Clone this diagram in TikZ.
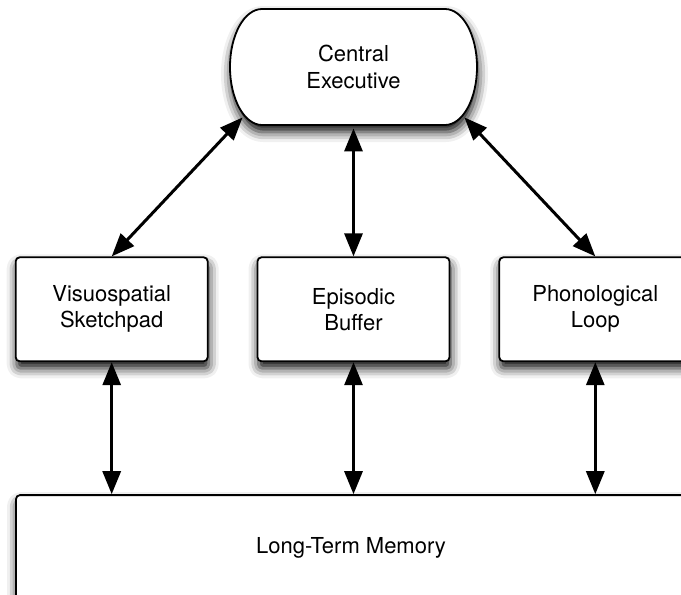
\documentclass[tikz,border=0pt]{standalone}
\usepackage{fontspec}
\setmainfont{TeX Gyre Heros}
\usetikzlibrary{arrows.meta, positioning, calc, shadows.blur}

\begin{document}
\begin{tikzpicture}[
    softshadow/.style={blur shadow={shadow xshift=0.5pt, shadow yshift=-3.5pt, shadow blur radius=5pt, shadow opacity=95}},
    box/.style={rectangle, draw, line width=0.9pt, rounded corners=2pt, fill=white, minimum width=96pt, minimum height=52pt, align=center, font=\fontsize{11}{13}\selectfont, softshadow},
    exec/.style={rectangle, minimum width=123.5pt, minimum height=58pt, align=center, font=\fontsize{11}{13.5}\selectfont},
    outline/.style={draw, line width=0.9pt, fill=white, softshadow},
    arr/.style={{Triangle[length=11.5pt,width=9pt]}-{Triangle[length=11.5pt,width=9pt]}, line width=1.5pt, fill opacity=1}
]
% frame
\useasboundingbox (0,0) rectangle (340.5pt,-297.5pt);

% Central executive (elliptic ends)
\coordinate (cec) at (176.75pt,-33.5pt);
\begin{scope}
\path[outline] ($(cec)+(-45.75pt,29pt)$) -- ++(91.5pt,0)
    arc[start angle=90, end angle=-90, x radius=16pt, y radius=29pt]
    -- ++(-91.5pt,0)
    arc[start angle=270, end angle=90, x radius=16pt, y radius=29pt] -- cycle;
\end{scope}
\node[exec] (ce) at (cec) {Central\\Executive};

% Slave systems
\node[box, below=65.5pt of ce] (eb) {Episodic\\Buffer};
\node[box, left=24pt of eb] (vs) {Visuospatial\\Sketchpad};
\node[box, right=24pt of eb] (pl) {Phonological\\Loop};

% Long-term memory
\node[box, minimum width=335pt, minimum height=53pt, below=66pt of eb, xshift=-1.25pt] (ltm) {Long-Term Memory};

% Corner points of the executive
\coordinate (ceL) at ($(ce.south west)+(6.5pt,4pt)$);
\coordinate (ceR) at ($(ce.south east)+(-6.5pt,4pt)$);

% Arrows
\draw[arr] (vs.north) -- (ceL);
\draw[arr] (eb.north) -- ([yshift=-1.5pt]ce.south);
\draw[arr] (pl.north) -- (ceR);
\draw[arr] (vs.south) -- (vs.south |- ltm.north);
\draw[arr] (eb.south) -- (eb.south |- ltm.north);
\draw[arr] (pl.south) -- (pl.south |- ltm.north);

\end{tikzpicture}
\end{document}
